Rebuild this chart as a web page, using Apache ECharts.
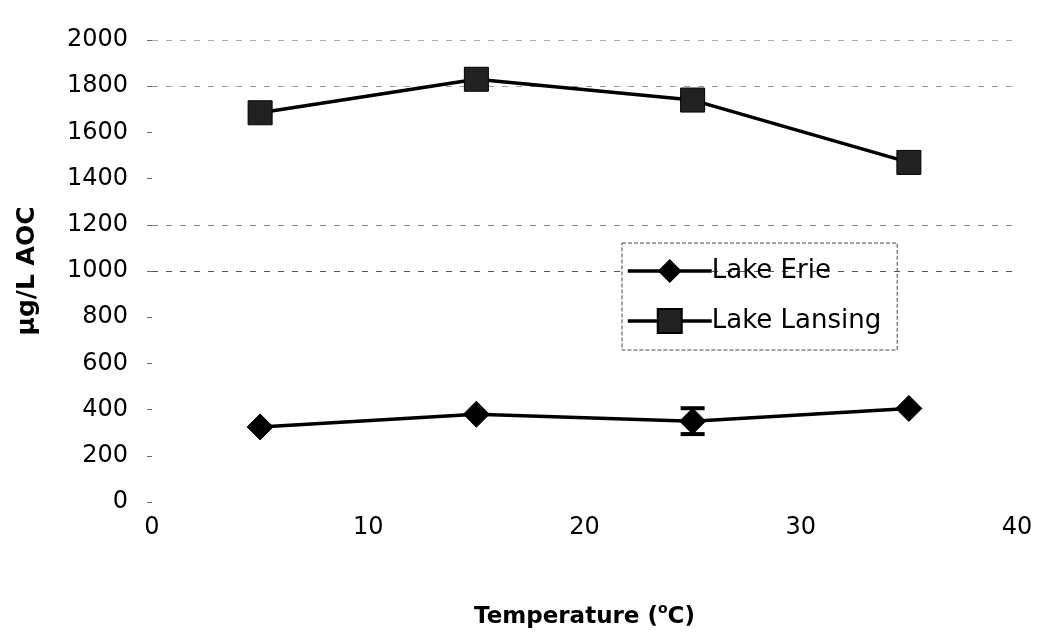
<!DOCTYPE html>
<html>
<head>
<meta charset="utf-8">
<script src="https://cdn.jsdelivr.net/npm/echarts@6/dist/echarts.min.js"></script>
<style>
  html, body { margin: 0; padding: 0; background: #fff; }
  #chart { width: 1042px; height: 634px; }
</style>
</head>
<body>
<div id="chart"></div>
<script>
// data
const temps = [5, 15, 25, 35];
const erie = [325, 380, 350, 405];
const erieErr = [0, 0, 56, 0];
const lansing = [1685, 1830, 1740, 1470];
const lansingErr = [0, 0, 0, 0];

// faint scanned grid: only some lines show up
const gridColors = [
  "transparent", "transparent", "transparent", "transparent", "transparent",
  "#555", "#888", "transparent", "transparent", "#999", "#aaa"
];

const chart = echarts.init(document.getElementById("chart"));

const toPairs = (ys) => temps.map((t, i) => [t, ys[i]]);
const errData = (ys, es) => temps.map((t, i) => [t, ys[i] - es[i], ys[i] + es[i]]);

const errorBars = (name, ys, es) => ({
  name: name,
  type: "custom",
  silent: true,
  z: 1,
  renderItem: (params, api) => {
    const x = api.value(0);
    if (api.value(2) - api.value(1) <= 0) return { type: "group", children: [] };
    const lo = api.coord([x, api.value(1)]);
    const hi = api.coord([x, api.value(2)]);
    const w = 12;
    const style = { stroke: "#000", lineWidth: 4 };
    return {
      type: "group",
      children: [
        { type: "line", shape: { x1: lo[0], y1: lo[1], x2: hi[0], y2: hi[1] }, style },
        { type: "line", shape: { x1: lo[0] - w, y1: lo[1], x2: lo[0] + w, y2: lo[1] }, style },
        { type: "line", shape: { x1: hi[0] - w, y1: hi[1], x2: hi[0] + w, y2: hi[1] }, style }
      ]
    };
  },
  data: errData(ys, es)
});

chart.setOption({
  animation: false,
  textStyle: { fontFamily: "DejaVu Sans, Arial, sans-serif" },
  grid: { left: 152, right: 25, top: 40, bottom: 132 },
  legend: {
    data: ["Lake Erie", "Lake Lansing"],
    orient: "vertical",
    left: 622,
    top: 243,
    padding: [15, 16, 16, 4],
    itemGap: 24,
    itemWidth: 84,
    itemHeight: 30,
    borderColor: "#444",
    borderWidth: 1,
    borderType: "dashed",
    lineStyle: { width: 3.5, color: "#000" },
    textStyle: { fontSize: 26, color: "#000", padding: [0, 0, 0, -5] }
  },
  xAxis: {
    type: "value",
    min: 0,
    max: 40,
    interval: 10,
    name: "Temperature ({sup|o}C)",
    nameLocation: "middle",
    nameGap: 100,
    nameTextStyle: {
      fontSize: 23,
      fontWeight: "bold",
      color: "#000",
      rich: {
        sup: { fontSize: 14, fontWeight: "bold", color: "#000", padding: [0, 0, 16, 0] }
      }
    },
    axisLine: { show: false },
    axisTick: { show: false },
    splitLine: { show: false },
    axisLabel: { fontSize: 24, color: "#000", margin: 14 }
  },
  yAxis: {
    type: "value",
    min: 0,
    max: 2000,
    interval: 200,
    name: "µg/L AOC",
    nameLocation: "middle",
    nameGap: 112,
    nameTextStyle: { fontSize: 25, fontWeight: "bold", color: "#000" },
    axisLine: { show: false },
    axisTick: { show: true, length: 5, lineStyle: { color: "#666" } },
    axisLabel: { fontSize: 24, color: "#000", margin: 24, formatter: (v) => String(v) },
    splitLine: {
      show: true,
      lineStyle: { color: gridColors, type: [6, 8], width: 1 }
    }
  },
  series: [
    errorBars("Lake Erie err", erie, erieErr),
    errorBars("Lake Lansing err", lansing, lansingErr),
    {
      name: "Lake Erie",
      type: "line",
      data: toPairs(erie),
      symbol: "diamond",
      symbolSize: 26,
      z: 3,
      lineStyle: { color: "#000", width: 3.5 },
      itemStyle: { color: "#000", borderColor: "#000" }
    },
    {
      name: "Lake Lansing",
      type: "line",
      data: toPairs(lansing),
      symbol: "rect",
      symbolSize: 24,
      z: 3,
      lineStyle: { color: "#000", width: 3.5 },
      itemStyle: { color: "#222", borderColor: "#000", borderWidth: 1 }
    }
  ]
});
</script>
</body>
</html>
